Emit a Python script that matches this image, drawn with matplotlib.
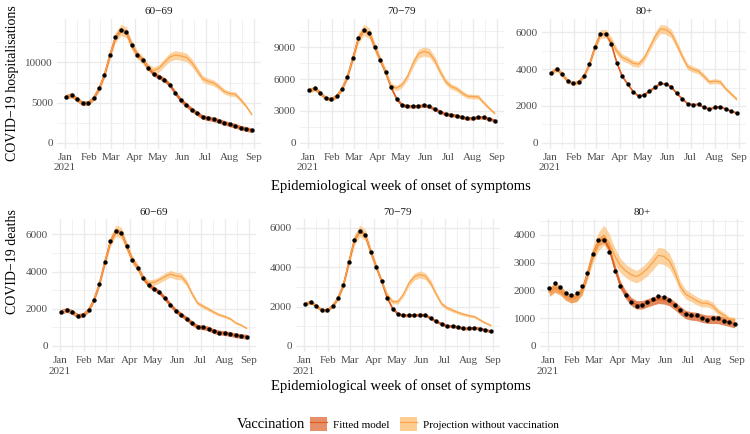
import matplotlib
matplotlib.use("Agg")
import matplotlib.pyplot as plt
import matplotlib.dates as mdates
from matplotlib.ticker import FixedLocator, FuncFormatter
from matplotlib.patches import Patch
from matplotlib.lines import Line2D
import pandas as pd

plt.rcParams["font.family"] = ["Liberation Serif", "DejaVu Serif"]

# weekly data, first week starting 3 Jan 2021
weeks = pd.date_range("2021-01-03", periods=35, freq="7D")
age_groups = ["60−69", "70−79", "80+"]

hosp_6069 = [5750, 5910, 5380, 4900, 4940, 5550, 6760, 8460, 10930, 13120, 14050, 13770,
             12150, 10970, 10320, 9350, 8580, 8220, 7850, 7170, 6190, 5300, 4700, 4130,
             3640, 3200, 3040, 2910, 2710, 2470, 2270, 2100, 1860, 1700, 1540]
hosp_7079 = [4930, 5120, 4680, 4190, 4100, 4380, 5090, 6230, 8010, 9860, 10630, 10330,
             9030, 7800, 6630, 5210, 4130, 3540, 3450, 3420, 3450, 3510, 3420, 3140,
             2930, 2680, 2620, 2530, 2400, 2280, 2310, 2400, 2370, 2250, 2070]
hosp_80 = [3800, 4020, 3710, 3350, 3220, 3300, 3630, 4270, 5200, 5910, 5940, 5370,
           4360, 3610, 3190, 2780, 2530, 2610, 2800, 3020, 3220, 3200, 3040, 2680,
           2390, 2120, 2070, 2090, 1920, 1830, 1920, 1960, 1830, 1710, 1620]
deaths_6069 = [1840, 1940, 1820, 1620, 1670, 1930, 2490, 3350, 4520, 5620, 6190, 6090,
               5350, 4640, 4210, 3660, 3270, 3080, 2890, 2560, 2220, 1890, 1680, 1460,
               1220, 1030, 1000, 930, 790, 720, 690, 640, 570, 530, 500]
deaths_7079 = [2140, 2240, 2030, 1820, 1820, 2030, 2430, 3110, 4260, 5380, 5850, 5630,
               4780, 4020, 3290, 2460, 1900, 1620, 1560, 1560, 1560, 1590, 1570, 1410,
               1250, 1120, 1010, 1010, 960, 890, 890, 920, 880, 810, 750]
deaths_80 = [2090, 2280, 2130, 1900, 1820, 1900, 2140, 2610, 3310, 3820, 3800, 3390,
             2700, 2170, 1850, 1590, 1430, 1480, 1570, 1690, 1780, 1760, 1670, 1470,
             1290, 1140, 1100, 1100, 1000, 950, 1000, 990, 900, 850, 800]
fit_deaths_80 = [1950, 2100, 2000, 1800, 1700, 1750, 2000, 2600, 3300, 3750, 3850, 3500,
                 2800, 2200, 1850, 1600, 1480, 1480, 1550, 1620, 1680, 1660, 1600, 1450,
                 1280, 1130, 1080, 1060, 1000, 960, 960, 950, 900, 850, 800]

# projection without vaccination: week index where it leaves the fit, then its values
proj_hosp_6069 = (15, [9400, 8990, 9270, 10000, 10690, 10930, 10810, 10650, 10000, 8990,
                       7980, 7650, 7450, 6960, 6360, 6110, 6030, 5340, 4530, 3520])
proj_hosp_7079 = (14, [6700, 5350, 5150, 5460, 6230, 7460, 8380, 8600, 8480, 7770, 6690,
                       5760, 5300, 5090, 4690, 4380, 4350, 4320, 3760, 3240, 2770])
proj_hosp_80 = (11, [5530, 4980, 4640, 4510, 4320, 4270, 4600, 5160, 5760, 6190, 6150, 5940,
                     5350, 4700, 4140, 3990, 3890, 3610, 3300, 3350, 3300, 2930, 2650, 2370])
proj_deaths_6069 = (16, [3390, 3420, 3560, 3730, 3870, 3770, 3730, 3390, 2790, 2300,
                         2130, 1980, 1810, 1670, 1580, 1460, 1240, 1120, 950])
proj_deaths_7079 = (15, [2600, 2250, 2250, 2630, 3190, 3520, 3630, 3550, 3190, 2630,
                         2140, 1930, 1820, 1700, 1610, 1540, 1490, 1330, 1170, 1050])
proj_deaths_80 = (10, [3990, 3700, 3240, 2900, 2700, 2570, 2490, 2610, 2780, 3010, 3260,
                       3220, 3070, 2670, 2150, 1860, 1750, 1630, 1540, 1540, 1440, 1230,
                       1110, 970, 950])

# ribbon half widths: fitted (absolute), projection (relative)
unc_hosp = [(300, 0.05), (170, 0.05), (50, 0.04)]
unc_deaths = [(130, 0.05), (80, 0.05), (150, 0.09)]

yticks_hosp = [[0, 5000, 10000], [0, 3000, 6000, 9000], [0, 2000, 4000, 6000]]
yticks_deaths = [[0, 2000, 4000, 6000], [0, 2000, 4000, 6000], [0, 1000, 2000, 3000, 4000]]

months = pd.date_range("2021-01-01", periods=9, freq="MS")
month_labels = ["Jan\n2021", "Feb", "Mar", "Apr", "May", "Jun", "Jul", "Aug", "Sep"]

FIT_FILL, FIT_LINE = "#DD6A35", "#E0601F"
PROJ_FILL, PROJ_LINE = "#FDB863", "#F9A24B"
GRID = "#EBEBEB"

W, H = 750, 434
fig = plt.figure(figsize=(W / 100, H / 100), dpi=100)


def px_axes(l, t, w, h):
    return fig.add_axes([l / W, 1 - (t + h) / H, w / W, h / H])


def draw_panel(ax, obs, fit, proj, unc, yticks, title):
    start, tail = proj
    proj_full = list(fit[:start]) + tail
    f_unc, p_unc = unc
    fit_lo = [v - f_unc for v in fit]
    fit_hi = [v + f_unc for v in fit]
    p_lo = [v * (1 - p_unc) for v in proj_full]
    p_hi = [v * (1 + p_unc) for v in proj_full]

    ax.fill_between(weeks, fit_lo, fit_hi, color=FIT_FILL, alpha=0.8, lw=0, zorder=2)
    ax.fill_between(weeks, p_lo, p_hi, color=PROJ_FILL, alpha=0.6, lw=0, zorder=3)
    ax.plot(weeks, fit, color=FIT_LINE, lw=1.2, zorder=4)
    ax.plot(weeks, proj_full, color=PROJ_LINE, lw=0.9, zorder=5)
    ax.scatter(weeks, obs, s=10, color="black", lw=0, zorder=6)

    top = max(max(fit_hi), max(p_hi), max(obs))
    ax.set_ylim(-0.05 * top, 1.05 * top)
    ax.set_xlim(weeks[0] - pd.Timedelta(days=12), weeks[-1] + pd.Timedelta(days=12))

    step = yticks[1] - yticks[0]
    ax.yaxis.set_major_locator(FixedLocator(yticks))
    ax.yaxis.set_minor_locator(FixedLocator([t + step / 2 for t in yticks]))
    ax.yaxis.set_major_formatter(FuncFormatter(lambda v, p: f"{int(v)}"))

    xm = mdates.date2num(months)
    ax.xaxis.set_major_locator(FixedLocator(xm))
    ax.xaxis.set_minor_locator(FixedLocator([(a + b) / 2 for a, b in zip(xm[:-1], xm[1:])]))
    ax.set_xticklabels(month_labels)

    ax.grid(which="major", color=GRID, lw=1.0, zorder=0)
    ax.grid(which="minor", color=GRID, lw=0.5, zorder=0)
    ax.set_axisbelow(True)
    for s in ax.spines.values():
        s.set_visible(False)
    ax.tick_params(which="both", length=0, pad=3, labelsize=8, labelcolor="#4D4D4D")
    for lab in ax.get_xticklabels():
        lab.set_multialignment("center")
    ax.set_title(title, fontsize=8, pad=3, color="#1A1A1A")


hosp = [hosp_6069, hosp_7079, hosp_80]
hosp_proj = [proj_hosp_6069, proj_hosp_7079, proj_hosp_80]
deaths = [deaths_6069, deaths_7079, deaths_80]
deaths_fit = [deaths_6069, deaths_7079, fit_deaths_80]
deaths_proj = [proj_deaths_6069, proj_deaths_7079, proj_deaths_80]

top_lefts = [57, 300, 542]
bot_lefts = [52, 296, 540]
for i in range(3):
    ax = px_axes(top_lefts[i], 18.5, 204, 130)
    draw_panel(ax, hosp[i], hosp[i], hosp_proj[i], unc_hosp[i], yticks_hosp[i], age_groups[i])
    ax = px_axes(bot_lefts[i], 219, 204, 133)
    draw_panel(ax, deaths[i], deaths_fit[i], deaths_proj[i], unc_deaths[i], yticks_deaths[i],
               age_groups[i])

fig.text(13 / W, 1 - 83 / H, "COVID−19 hospitalisations", rotation=90, ha="center",
         va="center", fontsize=10)
fig.text(13 / W, 1 - 262 / H, "COVID−19 deaths", rotation=90, ha="center", va="center",
         fontsize=10)
fig.text(401 / W, 1 - 186 / H, "Epidemiological week of onset of symptoms", ha="center",
         va="center", fontsize=10.5)
fig.text(401 / W, 1 - 386 / H, "Epidemiological week of onset of symptoms", ha="center",
         va="center", fontsize=10.5)

# legend
fig.text(305 / W, 1 - 424 / H, "Vaccination", ha="right", va="center", fontsize=10.5)
handles = [(Patch(facecolor="#E68F68", edgecolor="none"), Line2D([], [], color=FIT_LINE, lw=0.9)),
           (Patch(facecolor="#FECD91", edgecolor="none"), Line2D([], [], color=PROJ_LINE, lw=0.9))]
fig.legend(handles, ["Fitted model", "Projection without vaccination"], loc="center left",
           bbox_to_anchor=(310 / W, 1 - 424 / H), ncol=2, frameon=False, fontsize=8,
           handlelength=1.5, handleheight=1.6, handletextpad=0.6, columnspacing=0.9,
           borderpad=0, borderaxespad=0)

fig.savefig("out.png", dpi=100, facecolor="white")
